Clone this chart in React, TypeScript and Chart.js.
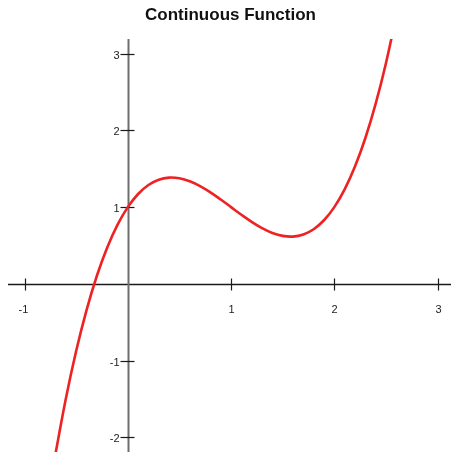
import React, { useEffect, useRef } from "react";
import { Chart, registerables } from "chart.js";

Chart.register(...registerables);

// Sampled values of the plotted curve
const xValues = [
  -0.7, -0.6, -0.5, -0.4, -0.3, -0.2, -0.1, 0, 0.1, 0.2, 0.3, 0.4, 0.5, 0.6,
  0.7, 0.8, 0.9, 1.0, 1.1, 1.2, 1.3, 1.4, 1.5, 1.6, 1.7, 1.8, 1.9, 2.0, 2.1,
  2.2, 2.3, 2.4, 2.5, 2.6,
];
const yValues = [
  -2.213, -1.496, -0.875, -0.344, 0.103, 0.472, 0.769, 1.0, 1.171, 1.288,
  1.357, 1.384, 1.375, 1.336, 1.273, 1.192, 1.099, 1.0, 0.901, 0.808, 0.727,
  0.664, 0.625, 0.616, 0.643, 0.712, 0.829, 1.0, 1.231, 1.528, 1.897, 2.344,
  2.875, 3.496,
];
const xTicks = [-1, 1, 2, 3];
const yTicks = [-2, -1, 1, 2, 3];
const titleText = "Continuous Function";

const fmt = (v: number) => (v < 0 ? "-" + Math.abs(v) : String(v));

// Axes drawn through the origin with crossing tick marks
const originAxes = {
  id: "originAxes",
  beforeDatasetsDraw(chart: any) {
    const { ctx, chartArea, scales } = chart;
    const xs = scales.x;
    const ys = scales.y;
    const ox = Math.round(xs.getPixelForValue(0)) + 0.5;
    const oy = Math.round(ys.getPixelForValue(0)) + 0.5;
    ctx.save();
    // horizontal axis
    ctx.strokeStyle = "#1a1a1a";
    ctx.lineWidth = 1.3;
    ctx.beginPath();
    ctx.moveTo(chartArea.left, oy);
    ctx.lineTo(chartArea.right, oy);
    ctx.stroke();
    // vertical axis
    ctx.strokeStyle = "#6e6e6e";
    ctx.lineWidth = 2;
    ctx.beginPath();
    ctx.moveTo(ox, chartArea.top);
    ctx.lineTo(ox, chartArea.bottom);
    ctx.stroke();

    ctx.strokeStyle = "#1a1a1a";
    ctx.lineWidth = 1.2;
    ctx.fillStyle = "#222";
    ctx.font = "11px Arial, 'Liberation Sans', sans-serif";
    // x ticks
    ctx.textAlign = "center";
    ctx.textBaseline = "middle";
    for (const t of xTicks) {
      const px = Math.round(xs.getPixelForValue(t)) + 0.5;
      ctx.beginPath();
      ctx.moveTo(px, oy - 6);
      ctx.lineTo(px, oy + 6);
      ctx.stroke();
      ctx.fillText(fmt(t), px - (t < 0 ? 2 : 0), oy + 25);
    }
    // y ticks
    ctx.textAlign = "right";
    for (const t of yTicks) {
      const py = Math.round(ys.getPixelForValue(t)) + 0.5;
      ctx.beginPath();
      ctx.moveTo(ox - 8, py);
      ctx.lineTo(ox + 6, py);
      ctx.stroke();
      ctx.fillText(fmt(t), ox - 9, py + 1);
    }
    // title
    ctx.fillStyle = "#111";
    ctx.textAlign = "center";
    ctx.font = "bold 17px Arial, 'Liberation Sans', sans-serif";
    ctx.fillText(titleText, 230.5, 15);
    ctx.restore();
  },
};

export default function App() {
  const canvasRef = useRef<HTMLCanvasElement | null>(null);

  useEffect(() => {
    if (!canvasRef.current) return;
    const chart = new Chart(canvasRef.current, {
      type: "scatter",
      data: {
        datasets: [
          {
            data: xValues.map((x, i) => ({ x, y: yValues[i] })),
            showLine: true,
            borderColor: "#ee2222",
            borderWidth: 2.6,
            pointRadius: 0,
            tension: 0.4,
            fill: false,
          },
        ],
      },
      options: {
        animation: false,
        responsive: false,
        maintainAspectRatio: false,
        layout: { padding: { left: 8, top: 39, right: 0, bottom: 0 } },
        plugins: {
          legend: { display: false },
          title: { display: false },
          tooltip: { enabled: false },
        },
        scales: {
          x: { type: "linear", min: -1.16, max: 3.13, display: false },
          y: { type: "linear", min: -2.19, max: 3.19, display: false },
        },
      },
      plugins: [originAxes],
    });
    return () => chart.destroy();
  }, []);

  return (
    <div style={{ position: "absolute", left: 0, top: 0, width: 451, height: 452, background: "#fff" }}>
      <canvas ref={canvasRef} width={451} height={452} style={{ display: "block" }} />
    </div>
  );
}
